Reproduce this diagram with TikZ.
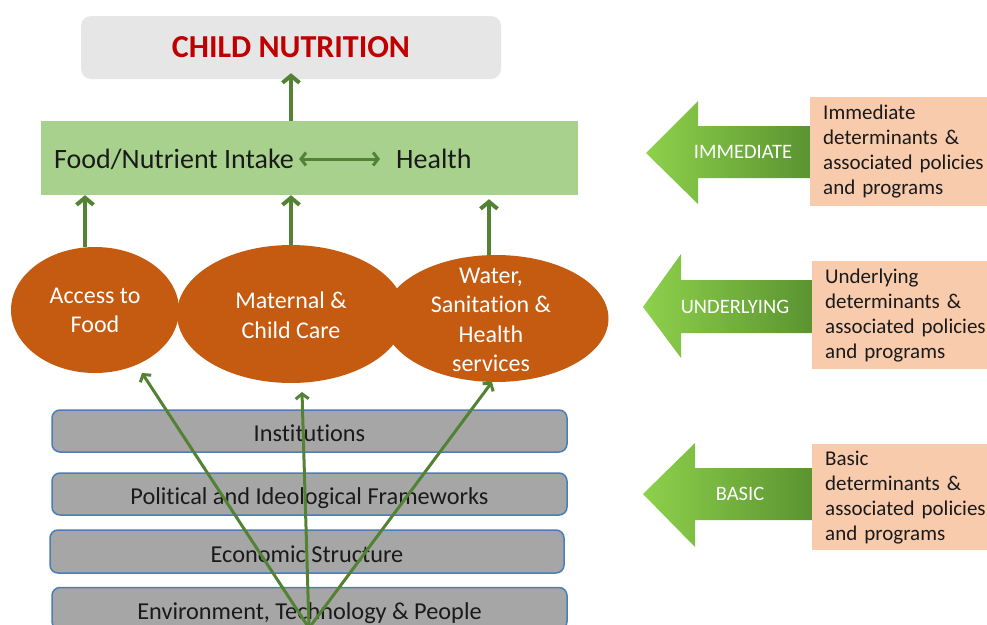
\documentclass[tikz,border=0pt]{standalone}
\usepackage{fontspec}
\setmainfont{Carlito}[Ligatures={NoCommon}]
\usetikzlibrary{arrows.meta,shapes.geometric,calc}
\definecolor{cngray}{HTML}{E7E6E6}
\definecolor{cnred}{HTML}{C00000}
\definecolor{fbgreen}{HTML}{A9D18E}
\definecolor{agreen}{HTML}{548235}
\definecolor{ellorange}{HTML}{C55A11}
\definecolor{bargray}{HTML}{A6A6A6}
\definecolor{barblue}{HTML}{4A7EBB}
\definecolor{peach}{HTML}{F8CBAD}
\definecolor{lgreen}{HTML}{8ED14B}
\definecolor{dgreen}{HTML}{5A9331}
\definecolor{txtdark}{HTML}{1A1A1A}
\begin{document}
\begin{tikzpicture}[x=1pt,y=-1pt,
  ellnode/.style={ellipse, fill=ellorange, inner sep=0pt},
  elltext/.style={text=white, align=center, inner sep=0pt, font=\fontsize{24}{29.5}\selectfont},
  barnode/.style={rectangle, rounded corners=8pt, fill=bargray, draw=barblue, line width=1.5pt,
     minimum width=515pt, minimum height=42pt, inner sep=0pt, text height=21pt, text depth=0pt,
     text=txtdark, font=\fontsize{24.3}{28}\selectfont},
  uparrow/.style={draw=agreen, line width=4pt, -{Straight Barb[length=7pt,width=17pt]}},
  slant/.style={draw=agreen, line width=3pt, -{Straight Barb[length=5pt,width=13pt]}},
  peachbox/.style={rectangle, fill=peach, anchor=north west, minimum width=190pt, text width=164pt,
     inner xsep=12pt, inner ysep=0pt, align=left, text=txtdark, font=\fontsize{21}{25}\selectfont},
  biglabel/.style={text=white, inner sep=0pt, font=\fontsize{20.5}{24}\selectfont}
]
\useasboundingbox (0,0) rectangle (987,624);
\clip (0,0) rectangle (987,624);

% top box
\node[rectangle, rounded corners=10pt, fill=cngray, minimum width=420pt, minimum height=63pt,
      text=cnred, font=\fontsize{32}{37}\selectfont\bfseries] (cn) at (291,47.5) {CHILD NUTRITION};

% green box
\node[rectangle, fill=fbgreen, minimum width=537pt, minimum height=74pt] (fb) at (309.5,158) {};
\node[anchor=west, inner sep=0pt, text=txtdark, font=\fontsize{28}{33}\selectfont] (fi) at (54,159) {Food/Nutrient Intake};
\node[anchor=west, inner sep=0pt, text=txtdark, font=\fontsize{28}{33}\selectfont] (he) at (396,159) {Health};
\draw[draw=agreen, line width=3pt, {Straight Barb[length=5pt,width=13pt]}-{Straight Barb[length=5pt,width=13pt]},
      shorten <=5pt, shorten >=16pt] (fi.east) -- (he.west);

\draw[uparrow, shorten >=-6pt] (fb.north -| cn.south) -- (cn.south);

% ellipses
\node[ellnode, minimum width=168pt, minimum height=126pt] (acc) at (95,310) {};
\node[ellnode, minimum width=228pt, minimum height=138pt] (mat) at (291,314) {};
\node[ellnode, minimum width=225pt, minimum height=127pt] (wat) at (496,318.5) {};
\node[elltext] (acct) at (95,310.5) {Access to\\Food};
\node[elltext] (matt) at (291,315) {Maternal \&\\Child Care};
\node[elltext] (watt) at (491,320) {Water,\\Sanitation \&\\Health\\services};

\draw[uparrow] ([xshift=-10pt]acc.north) -- ([xshift=-10pt]acc.north |- fb.south);
\draw[uparrow] (mat.north) -- (mat.north |- fb.south);
\draw[uparrow, shorten >=4pt] ([xshift=-7pt]wat.north) -- ([xshift=-7pt]wat.north |- fb.south);

% bars
\node[barnode] (b1) at (309.5,431) {Institutions};
\node[barnode] (b2) at (309.5,494) {Political and Ideological Frameworks};
\node[barnode, minimum width=514pt, minimum height=43pt] (b3) at (307,551.5) {Economic Structure};
\node[barnode] (b4) at (309.5,608.5) {Environment, Technology \& People};

% slanted connectors
\coordinate (src) at (309,628);
\coordinate (tipA) at (142,373);
\coordinate (tipB) at (302,392);
\coordinate (tipC) at (492,382);
\draw[slant] (src) -- (tipA);
\draw[slant] (src) -- (tipB);
\draw[slant] (src) -- (tipC);

% big arrows
\shade[left color=lgreen, right color=dgreen] (646,153) -- (698,101) -- (698,126) -- (811,126) -- (811,178) -- (698,178) -- (698,204) -- cycle;
\shade[left color=lgreen, right color=dgreen] (643,307) -- (681,254) -- (681,280) -- (813,280) -- (813,333) -- (681,333) -- (681,358) -- cycle;
\shade[left color=lgreen, right color=dgreen] (643,494) -- (695,443) -- (695,468) -- (813,468) -- (813,520) -- (695,520) -- (695,547) -- cycle;
\node[biglabel] (limm) at (743,152) {IMMEDIATE};
\node[biglabel] (lund) at (735,307) {UNDERLYING};
\node[biglabel] (lbas) at (740,494) {BASIC};

% peach boxes
\node[peachbox, minimum height=109pt] (p1) at (810,97) {Immediate\\determinants \&\\associated policies\\and programs};
\node[peachbox, minimum height=108pt] (p2) at (812,261) {Underlying\\determinants \&\\associated policies\\and programs};
\node[peachbox, minimum height=106pt] (p3) at (812,444) {Basic\\determinants \&\\associated policies\\and programs};
\end{tikzpicture}
\end{document}
